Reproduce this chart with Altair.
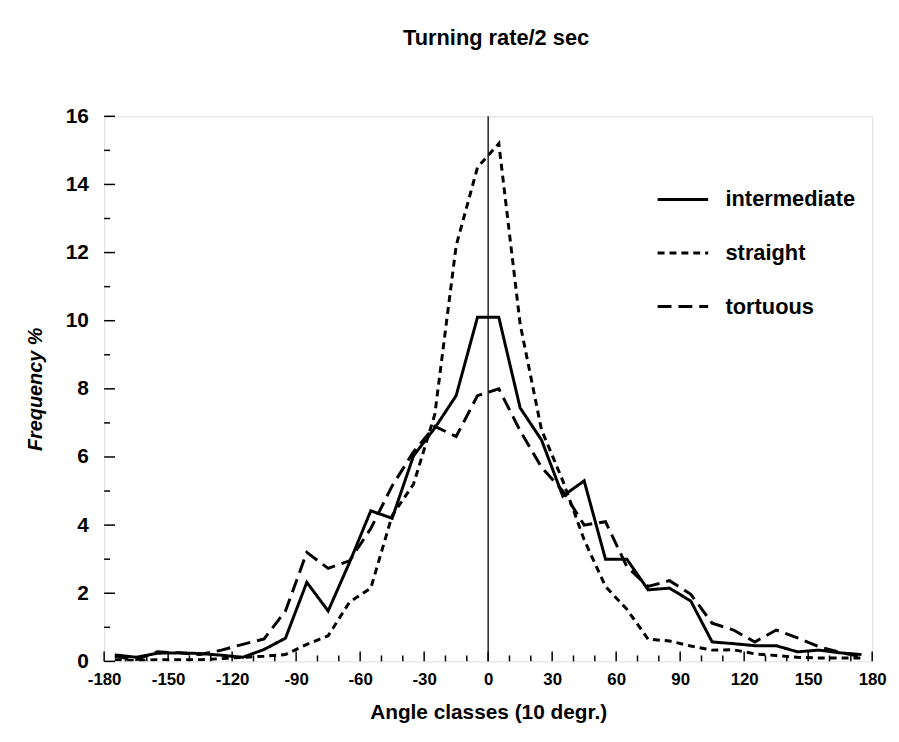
import altair as alt
import pandas as pd

# Angle classes (centres of 10-degree classes)
angles = [-175, -165, -155, -145, -135, -125, -115, -105, -95, -85, -75, -65,
          -55, -45, -35, -25, -15, -5, 5, 15, 25, 35, 45, 55,
          65, 75, 85, 95, 105, 115, 125, 135, 145, 155, 165, 175]

intermediate = [0.19, 0.12, 0.24, 0.25, 0.23, 0.18, 0.12, 0.35, 0.68, 2.32, 1.48, 2.9,
                4.42, 4.2, 6.03, 6.85, 7.8, 10.1, 10.1, 7.44, 6.5, 4.85, 5.3, 3.0,
                3.0, 2.1, 2.15, 1.77, 0.57, 0.52, 0.46, 0.46, 0.28, 0.33, 0.25, 0.2]

straight = [0.05, 0.02, 0.05, 0.05, 0.05, 0.08, 0.12, 0.15, 0.2, 0.5, 0.75, 1.74,
            2.15, 4.28, 5.2, 7.25, 12.2, 14.5, 15.2, 9.9, 6.8, 5.3, 3.57, 2.2,
            1.53, 0.65, 0.6, 0.45, 0.33, 0.34, 0.22, 0.17, 0.12, 0.1, 0.1, 0.1]

tortuous = [0.15, 0.05, 0.28, 0.25, 0.2, 0.33, 0.5, 0.66, 1.48, 3.2, 2.73, 2.95,
            3.9, 5.15, 6.15, 6.9, 6.6, 7.8, 8.0, 6.77, 5.7, 5.0, 4.0, 4.1,
            2.78, 2.2, 2.37, 1.97, 1.12, 0.92, 0.57, 0.92, 0.69, 0.43, 0.26, 0.14]

series_names = ["intermediate", "straight", "tortuous"]
series_dash = [[1, 0], [7, 5], [14, 7]]

x_labels = [-180, -150, -120, -90, -60, -30, 0, 30, 60, 90, 120, 150, 180]
x_minor = [-170, -160, -140, -130, -110, -100, -80, -70, -50, -40, -20, -10,
           10, 20, 40, 50, 70, 80, 100, 110, 130, 140, 160, 170]
y_labels = [0, 2, 4, 6, 8, 10, 12, 14, 16]
y_minor = [1, 3, 5, 7, 9, 11, 13, 15]

W, H = 775, 550
FONT = "Liberation Sans"

rows = []
for name, vals in zip(series_names, [intermediate, straight, tortuous]):
    for a, v in zip(angles, vals):
        rows.append({"angle": a, "freq": v, "type": name})
df = pd.DataFrame(rows)

xscale = alt.Scale(domain=[-180, 180], nice=False, zero=False)
yscale = alt.Scale(domain=[0, 16], nice=False, zero=False)

lines = alt.Chart(df).mark_line(color="black", strokeWidth=3, clip=True).encode(
    x=alt.X("angle:Q", scale=xscale,
            axis=alt.Axis(values=x_labels, title="Angle classes (10 degr.)",
                          labelExpr="datum.value + ''",
                          ticks=False, domain=False, grid=False,
                          labelFont=FONT, labelFontSize=17, labelFontWeight="bold",
                          labelPadding=10, labelFlush=False, labelColor="black",
                          titleFont=FONT, titleFontSize=21, titleFontWeight="bold",
                          titlePadding=15, titleColor="black")),
    y=alt.Y("freq:Q", scale=yscale,
            axis=alt.Axis(values=y_labels, title="Frequency %",
                          ticks=False, domain=False, grid=False,
                          labelFont=FONT, labelFontSize=21, labelFontWeight="bold",
                          labelPadding=16, labelColor="black",
                          titleFont=FONT, titleFontSize=20, titleFontWeight="bold",
                          titleFontStyle="italic", titlePadding=20, titleColor="black")),
    strokeDash=alt.StrokeDash(
        "type:N",
        scale=alt.Scale(domain=series_names, range=series_dash),
        legend=alt.Legend(title=None, orient="none", legendX=557, legendY=57,
                          symbolType="stroke", symbolSize=2600, symbolStrokeWidth=3,
                          symbolStrokeColor="black", labelFont=FONT,
                          labelFontSize=22, labelFontWeight="bold",
                          labelColor="black", labelOffset=16, rowPadding=16,
                          padding=0)),
    order=alt.Order("angle:Q"),
)

zero_line = alt.Chart(pd.DataFrame({"x": [0]})).mark_rule(
    color="black", strokeWidth=1.3).encode(x=alt.X("x:Q", scale=xscale))

ymaj = alt.Chart(pd.DataFrame({"y": y_labels})).mark_rule(
    color="black", strokeWidth=1.5).encode(
    y=alt.Y("y:Q", scale=yscale), x=alt.value(0), x2=alt.value(11))
ymin = alt.Chart(pd.DataFrame({"y": y_minor})).mark_rule(
    color="black", strokeWidth=1.5).encode(
    y=alt.Y("y:Q", scale=yscale), x=alt.value(0), x2=alt.value(6))
xmaj = alt.Chart(pd.DataFrame({"x": x_labels})).mark_rule(
    color="black", strokeWidth=1.5).encode(
    x=alt.X("x:Q", scale=xscale), y=alt.value(H), y2=alt.value(H - 10))
xmin = alt.Chart(pd.DataFrame({"x": x_minor})).mark_rule(
    color="black", strokeWidth=1.5).encode(
    x=alt.X("x:Q", scale=xscale), y=alt.value(H), y2=alt.value(H - 6))

chart = alt.layer(zero_line, ymaj, ymin, xmaj, xmin, lines).properties(
    width=W, height=H,
    title=alt.TitleParams("Turning rate/2 sec", font=FONT, fontSize=22,
                          fontWeight="bold", color="black", offset=56,
                          anchor="middle", dx=8),
    autosize=alt.AutoSizeParams(type="none"),
    padding={"left": 97, "top": 106, "right": 19, "bottom": 70},
).configure_view(stroke="black", strokeWidth=1.5).configure(background="white")

chart.save("out.html", embed_options={"renderer": "svg", "actions": False})
